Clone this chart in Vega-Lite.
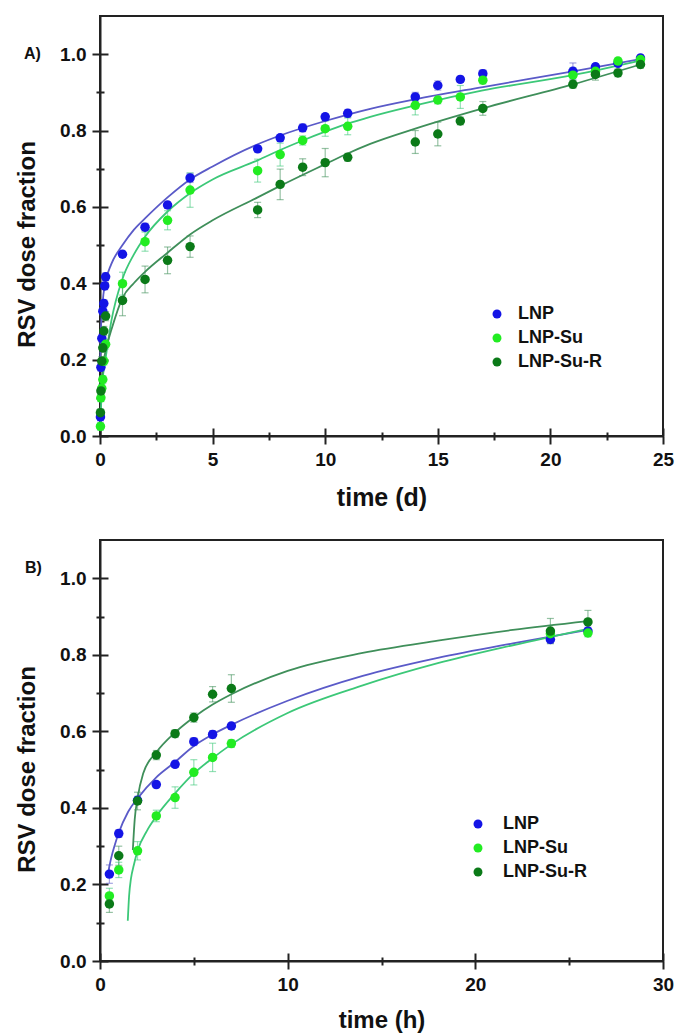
{
  "$schema": "https://vega.github.io/schema/vega-lite/v6.json",
  "background": "white",
  "padding": {"left": 14, "top": 15, "right": 8, "bottom": 2},
  "config": {
    "font": "Liberation Sans",
    "view": {"stroke": "#222", "strokeWidth": 2},
    "axis": {"grid": false, "domainColor": "#222", "domainWidth": 2, "tickColor": "#222", "tickWidth": 2, "labelFont": "Liberation Sans", "labelFontWeight": "bold", "labelFontSize": 19, "labelColor": "#111", "titleFont": "Liberation Sans", "titleFontWeight": "bold", "titleColor": "#111", "labelOverlap": false, "labelFlush": false}
  },
  "datasets": {
    "ptsA": [
      {"series":"LNP","t":0.02,"v":0.05,"lo":0.04,"hi":0.06},
      {"series":"LNP","t":0.04,"v":0.18,"lo":0.17,"hi":0.19},
      {"series":"LNP","t":0.08,"v":0.256,"lo":0.246,"hi":0.266},
      {"series":"LNP","t":0.125,"v":0.327,"lo":0.317,"hi":0.337},
      {"series":"LNP","t":0.17,"v":0.347,"lo":0.337,"hi":0.357},
      {"series":"LNP","t":0.21,"v":0.393,"lo":0.383,"hi":0.403},
      {"series":"LNP","t":0.25,"v":0.417,"lo":0.407,"hi":0.427},
      {"series":"LNP","t":1,"v":0.476,"lo":0.468,"hi":0.484},
      {"series":"LNP","t":2,"v":0.547,"lo":0.537,"hi":0.557},
      {"series":"LNP","t":3,"v":0.605,"lo":0.597,"hi":0.613},
      {"series":"LNP","t":4,"v":0.676,"lo":0.664,"hi":0.688},
      {"series":"LNP","t":7,"v":0.752,"lo":0.744,"hi":0.76},
      {"series":"LNP","t":8,"v":0.781,"lo":0.773,"hi":0.789},
      {"series":"LNP","t":9,"v":0.807,"lo":0.797,"hi":0.817},
      {"series":"LNP","t":10,"v":0.836,"lo":0.828,"hi":0.844},
      {"series":"LNP","t":11,"v":0.845,"lo":0.835,"hi":0.855},
      {"series":"LNP","t":14,"v":0.888,"lo":0.876,"hi":0.9},
      {"series":"LNP","t":15,"v":0.918,"lo":0.906,"hi":0.93},
      {"series":"LNP","t":16,"v":0.934,"lo":0.926,"hi":0.942},
      {"series":"LNP","t":17,"v":0.949,"lo":0.939,"hi":0.959},
      {"series":"LNP","t":21,"v":0.955,"lo":0.933,"hi":0.977},
      {"series":"LNP","t":22,"v":0.967,"lo":0.959,"hi":0.975},
      {"series":"LNP","t":23,"v":0.976,"lo":0.968,"hi":0.984},
      {"series":"LNP","t":24,"v":0.99,"lo":0.982,"hi":0.998},
      {"series":"LNP-Su","t":0.02,"v":0.025,"lo":0.015,"hi":0.035},
      {"series":"LNP-Su","t":0.04,"v":0.1,"lo":0.09,"hi":0.11},
      {"series":"LNP-Su","t":0.08,"v":0.125,"lo":0.115,"hi":0.135},
      {"series":"LNP-Su","t":0.125,"v":0.148,"lo":0.138,"hi":0.158},
      {"series":"LNP-Su","t":0.17,"v":0.196,"lo":0.186,"hi":0.206},
      {"series":"LNP-Su","t":0.25,"v":0.24,"lo":0.228,"hi":0.252},
      {"series":"LNP-Su","t":1,"v":0.399,"lo":0.369,"hi":0.429},
      {"series":"LNP-Su","t":2,"v":0.509,"lo":0.484,"hi":0.534},
      {"series":"LNP-Su","t":3,"v":0.565,"lo":0.54,"hi":0.59},
      {"series":"LNP-Su","t":4,"v":0.644,"lo":0.599,"hi":0.689},
      {"series":"LNP-Su","t":7,"v":0.695,"lo":0.665,"hi":0.725},
      {"series":"LNP-Su","t":8,"v":0.737,"lo":0.707,"hi":0.767},
      {"series":"LNP-Su","t":9,"v":0.774,"lo":0.762,"hi":0.786},
      {"series":"LNP-Su","t":10,"v":0.805,"lo":0.785,"hi":0.825},
      {"series":"LNP-Su","t":11,"v":0.811,"lo":0.789,"hi":0.833},
      {"series":"LNP-Su","t":14,"v":0.866,"lo":0.841,"hi":0.891},
      {"series":"LNP-Su","t":15,"v":0.88,"lo":0.87,"hi":0.89},
      {"series":"LNP-Su","t":16,"v":0.888,"lo":0.858,"hi":0.918},
      {"series":"LNP-Su","t":17,"v":0.932,"lo":0.922,"hi":0.942},
      {"series":"LNP-Su","t":21,"v":0.945,"lo":0.925,"hi":0.965},
      {"series":"LNP-Su","t":22,"v":0.955,"lo":0.945,"hi":0.965},
      {"series":"LNP-Su","t":23,"v":0.982,"lo":0.974,"hi":0.99},
      {"series":"LNP-Su","t":24,"v":0.986,"lo":0.978,"hi":0.994},
      {"series":"LNP-Su-R","t":0.02,"v":0.061,"lo":0.051,"hi":0.071},
      {"series":"LNP-Su-R","t":0.04,"v":0.118,"lo":0.108,"hi":0.128},
      {"series":"LNP-Su-R","t":0.08,"v":0.196,"lo":0.184,"hi":0.208},
      {"series":"LNP-Su-R","t":0.125,"v":0.231,"lo":0.219,"hi":0.243},
      {"series":"LNP-Su-R","t":0.17,"v":0.275,"lo":0.263,"hi":0.287},
      {"series":"LNP-Su-R","t":0.25,"v":0.314,"lo":0.302,"hi":0.326},
      {"series":"LNP-Su-R","t":1,"v":0.355,"lo":0.315,"hi":0.395},
      {"series":"LNP-Su-R","t":2,"v":0.41,"lo":0.375,"hi":0.445},
      {"series":"LNP-Su-R","t":3,"v":0.46,"lo":0.425,"hi":0.495},
      {"series":"LNP-Su-R","t":4,"v":0.496,"lo":0.468,"hi":0.524},
      {"series":"LNP-Su-R","t":7,"v":0.592,"lo":0.572,"hi":0.612},
      {"series":"LNP-Su-R","t":8,"v":0.659,"lo":0.619,"hi":0.699},
      {"series":"LNP-Su-R","t":9,"v":0.704,"lo":0.682,"hi":0.726},
      {"series":"LNP-Su-R","t":10,"v":0.716,"lo":0.679,"hi":0.753},
      {"series":"LNP-Su-R","t":11,"v":0.73,"lo":0.72,"hi":0.74},
      {"series":"LNP-Su-R","t":14,"v":0.77,"lo":0.74,"hi":0.8},
      {"series":"LNP-Su-R","t":15,"v":0.791,"lo":0.76,"hi":0.822},
      {"series":"LNP-Su-R","t":16,"v":0.825,"lo":0.815,"hi":0.835},
      {"series":"LNP-Su-R","t":17,"v":0.858,"lo":0.84,"hi":0.876},
      {"series":"LNP-Su-R","t":21,"v":0.921,"lo":0.911,"hi":0.931},
      {"series":"LNP-Su-R","t":22,"v":0.947,"lo":0.932,"hi":0.962},
      {"series":"LNP-Su-R","t":23,"v":0.951,"lo":0.941,"hi":0.961},
      {"series":"LNP-Su-R","t":24,"v":0.973,"lo":0.963,"hi":0.983}
    ],
    "fitA": [
      {"series":"LNP","t":0.01,"v":0.18},{"series":"LNP","t":0.03,"v":0.26},{"series":"LNP","t":0.08,"v":0.32},{"series":"LNP","t":0.15,"v":0.37},{"series":"LNP","t":0.25,"v":0.405},{"series":"LNP","t":0.5,"v":0.45},{"series":"LNP","t":1,"v":0.5},{"series":"LNP","t":1.5,"v":0.54},{"series":"LNP","t":2,"v":0.57},{"series":"LNP","t":3,"v":0.625},{"series":"LNP","t":4,"v":0.672},{"series":"LNP","t":5,"v":0.706},{"series":"LNP","t":7,"v":0.764},{"series":"LNP","t":8,"v":0.787},{"series":"LNP","t":10,"v":0.825},{"series":"LNP","t":12,"v":0.857},{"series":"LNP","t":14,"v":0.882},{"series":"LNP","t":17,"v":0.914},{"series":"LNP","t":21,"v":0.955},{"series":"LNP","t":24,"v":0.987},
      {"series":"LNP-Su","t":0.02,"v":0.03},{"series":"LNP-Su","t":0.06,"v":0.1},{"series":"LNP-Su","t":0.12,"v":0.15},{"series":"LNP-Su","t":0.24,"v":0.2},{"series":"LNP-Su","t":0.5,"v":0.3},{"series":"LNP-Su","t":1,"v":0.412},{"series":"LNP-Su","t":1.5,"v":0.475},{"series":"LNP-Su","t":2,"v":0.522},{"series":"LNP-Su","t":3,"v":0.588},{"series":"LNP-Su","t":4,"v":0.636},{"series":"LNP-Su","t":5,"v":0.672},{"series":"LNP-Su","t":7,"v":0.722},{"series":"LNP-Su","t":8,"v":0.749},{"series":"LNP-Su","t":9,"v":0.774},{"series":"LNP-Su","t":10,"v":0.797},{"series":"LNP-Su","t":11,"v":0.818},{"series":"LNP-Su","t":12,"v":0.836},{"series":"LNP-Su","t":14,"v":0.866},{"series":"LNP-Su","t":17,"v":0.905},{"series":"LNP-Su","t":21,"v":0.945},{"series":"LNP-Su","t":24,"v":0.983},
      {"series":"LNP-Su-R","t":0.05,"v":0.12},{"series":"LNP-Su-R","t":0.15,"v":0.19},{"series":"LNP-Su-R","t":0.3,"v":0.235},{"series":"LNP-Su-R","t":0.53,"v":0.283},{"series":"LNP-Su-R","t":1,"v":0.362},{"series":"LNP-Su-R","t":1.5,"v":0.4},{"series":"LNP-Su-R","t":2,"v":0.43},{"series":"LNP-Su-R","t":3,"v":0.48},{"series":"LNP-Su-R","t":4,"v":0.528},{"series":"LNP-Su-R","t":5,"v":0.565},{"series":"LNP-Su-R","t":7,"v":0.625},{"series":"LNP-Su-R","t":8,"v":0.655},{"series":"LNP-Su-R","t":10,"v":0.712},{"series":"LNP-Su-R","t":11,"v":0.74},{"series":"LNP-Su-R","t":12,"v":0.765},{"series":"LNP-Su-R","t":14,"v":0.805},{"series":"LNP-Su-R","t":17,"v":0.858},{"series":"LNP-Su-R","t":21,"v":0.921},{"series":"LNP-Su-R","t":24,"v":0.973}
    ],
    "ptsB": [
      {"series":"LNP","t":0.5,"v":0.227,"lo":0.203,"hi":0.251},
      {"series":"LNP","t":1,"v":0.333,"lo":0.323,"hi":0.343},
      {"series":"LNP","t":2,"v":0.42,"lo":0.41,"hi":0.43},
      {"series":"LNP","t":3,"v":0.461,"lo":0.453,"hi":0.469},
      {"series":"LNP","t":4,"v":0.514,"lo":0.506,"hi":0.522},
      {"series":"LNP","t":5,"v":0.573,"lo":0.563,"hi":0.583},
      {"series":"LNP","t":6,"v":0.592,"lo":0.582,"hi":0.602},
      {"series":"LNP","t":7,"v":0.614,"lo":0.606,"hi":0.622},
      {"series":"LNP","t":24,"v":0.84,"lo":0.83,"hi":0.85},
      {"series":"LNP","t":26,"v":0.862,"lo":0.852,"hi":0.872},
      {"series":"LNP-Su","t":0.5,"v":0.17,"lo":0.15,"hi":0.19},
      {"series":"LNP-Su","t":1,"v":0.238,"lo":0.218,"hi":0.258},
      {"series":"LNP-Su","t":2,"v":0.288,"lo":0.264,"hi":0.312},
      {"series":"LNP-Su","t":3,"v":0.379,"lo":0.364,"hi":0.394},
      {"series":"LNP-Su","t":4,"v":0.427,"lo":0.399,"hi":0.455},
      {"series":"LNP-Su","t":5,"v":0.493,"lo":0.46,"hi":0.526},
      {"series":"LNP-Su","t":6,"v":0.532,"lo":0.495,"hi":0.569},
      {"series":"LNP-Su","t":7,"v":0.568,"lo":0.558,"hi":0.578},
      {"series":"LNP-Su","t":24,"v":0.855,"lo":0.843,"hi":0.867},
      {"series":"LNP-Su","t":26,"v":0.857,"lo":0.847,"hi":0.867},
      {"series":"LNP-Su-R","t":0.5,"v":0.149,"lo":0.127,"hi":0.171},
      {"series":"LNP-Su-R","t":1,"v":0.275,"lo":0.25,"hi":0.3},
      {"series":"LNP-Su-R","t":2,"v":0.418,"lo":0.395,"hi":0.441},
      {"series":"LNP-Su-R","t":3,"v":0.538,"lo":0.526,"hi":0.55},
      {"series":"LNP-Su-R","t":4,"v":0.594,"lo":0.584,"hi":0.604},
      {"series":"LNP-Su-R","t":5,"v":0.636,"lo":0.624,"hi":0.648},
      {"series":"LNP-Su-R","t":6,"v":0.697,"lo":0.677,"hi":0.717},
      {"series":"LNP-Su-R","t":7,"v":0.712,"lo":0.676,"hi":0.748},
      {"series":"LNP-Su-R","t":24,"v":0.862,"lo":0.829,"hi":0.895},
      {"series":"LNP-Su-R","t":26,"v":0.886,"lo":0.856,"hi":0.916}
    ],
    "fitB": [
      {"series":"LNP","t":0.4,"v":0.222},{"series":"LNP","t":0.6,"v":0.27},{"series":"LNP","t":0.8,"v":0.305},{"series":"LNP","t":1,"v":0.335},{"series":"LNP","t":1.5,"v":0.39},{"series":"LNP","t":2,"v":0.425},{"series":"LNP","t":3,"v":0.48},{"series":"LNP","t":4,"v":0.52},{"series":"LNP","t":5,"v":0.562},{"series":"LNP","t":6,"v":0.592},{"series":"LNP","t":7,"v":0.617},{"series":"LNP","t":10,"v":0.68},{"series":"LNP","t":14,"v":0.745},{"series":"LNP","t":18,"v":0.792},{"series":"LNP","t":22,"v":0.83},{"series":"LNP","t":26,"v":0.865},
      {"series":"LNP-Su","t":1.48,"v":0.105},{"series":"LNP-Su","t":1.55,"v":0.17},{"series":"LNP-Su","t":1.65,"v":0.215},{"series":"LNP-Su","t":1.8,"v":0.25},{"series":"LNP-Su","t":2,"v":0.288},{"series":"LNP-Su","t":2.5,"v":0.34},{"series":"LNP-Su","t":3,"v":0.378},{"series":"LNP-Su","t":4,"v":0.438},{"series":"LNP-Su","t":5,"v":0.49},{"series":"LNP-Su","t":6,"v":0.53},{"series":"LNP-Su","t":7,"v":0.566},{"series":"LNP-Su","t":10,"v":0.648},{"series":"LNP-Su","t":14,"v":0.72},{"series":"LNP-Su","t":18,"v":0.778},{"series":"LNP-Su","t":22,"v":0.825},{"series":"LNP-Su","t":26,"v":0.868},
      {"series":"LNP-Su-R","t":1.75,"v":0.29},{"series":"LNP-Su-R","t":1.85,"v":0.37},{"series":"LNP-Su-R","t":2,"v":0.425},{"series":"LNP-Su-R","t":2.3,"v":0.49},{"series":"LNP-Su-R","t":3,"v":0.545},{"series":"LNP-Su-R","t":4,"v":0.597},{"series":"LNP-Su-R","t":5,"v":0.637},{"series":"LNP-Su-R","t":6,"v":0.67},{"series":"LNP-Su-R","t":7,"v":0.697},{"series":"LNP-Su-R","t":10,"v":0.758},{"series":"LNP-Su-R","t":14,"v":0.805},{"series":"LNP-Su-R","t":18,"v":0.837},{"series":"LNP-Su-R","t":22,"v":0.865},{"series":"LNP-Su-R","t":26,"v":0.888}
    ]
  },
  "bounds": "flush",
  "spacing": 104,
  "resolve": {"scale": {"x": "independent", "y": "independent", "color": "independent"}, "legend": {"color": "independent"}},
  "vconcat": [
    {
      "width": 563,
      "height": 420,
      "resolve": {"axis": {"x": "independent", "y": "independent"}},
      "layer": [
        {
          "data": {"name": "ptsA"},
          "mark": {"type": "rule", "strokeWidth": 1.2, "opacity": 0.55},
          "encoding": {
            "x": {"field": "t", "type": "quantitative", "scale": {"domain": [0, 25], "nice": false, "zero": false},
              "axis": {"orient": "bottom", "values": [0, 2.5, 5, 7.5, 10, 12.5, 15, 17.5, 20, 22.5, 25], "format": "d", "labelExpr": "datum.value % 5 === 0 ? datum.label : ''", "tickSize": {"condition": {"test": "datum.value % 5 === 0", "value": 8}, "value": 4}, "labelPadding": 6, "title": "time (d)", "titleFontSize": 25, "titlePadding": 16}},
            "y": {"field": "lo", "type": "quantitative", "scale": {"domain": [0, 1.1], "nice": false, "zero": false},
              "axis": {"orient": "left", "values": [0, 0.1, 0.2, 0.3, 0.4, 0.5, 0.6, 0.7, 0.8, 0.9, 1.0], "format": ".1f", "labelExpr": "round(datum.value * 10) % 2 === 0 ? datum.label : ''", "tickSize": {"condition": {"test": "round(datum.value * 10) % 2 === 0", "value": 8}, "value": 4}, "labelPadding": 6, "title": "RSV dose fraction", "titleFontSize": 24, "titlePadding": 20, "titleY": 228}},
            "y2": {"field": "hi"},
            "stroke": {"field": "series", "type": "nominal", "scale": {"domain": ["LNP", "LNP-Su", "LNP-Su-R"], "range": ["#5a5ac8", "#3cc878", "#3f8f5a"]}, "legend": null}
          }
        },
        {
          "data": {"name": "ptsA"},
          "mark": {"type": "tick", "orient": "horizontal", "size": 7, "thickness": 1.2, "opacity": 0.55},
          "encoding": {
            "x": {"field": "t", "type": "quantitative", "scale": {"domain": [0, 25], "nice": false, "zero": false}, "axis": null},
            "y": {"field": "lo", "type": "quantitative", "scale": {"domain": [0, 1.1], "nice": false, "zero": false}, "axis": null},
            "fill": {"field": "series", "type": "nominal", "scale": {"domain": ["LNP", "LNP-Su", "LNP-Su-R"], "range": ["#5a5ac8", "#3cc878", "#3f8f5a"]}, "legend": null}
          }
        },
        {
          "data": {"name": "ptsA"},
          "mark": {"type": "tick", "orient": "horizontal", "size": 7, "thickness": 1.2, "opacity": 0.55},
          "encoding": {
            "x": {"field": "t", "type": "quantitative", "scale": {"domain": [0, 25], "nice": false, "zero": false}, "axis": null},
            "y": {"field": "hi", "type": "quantitative", "scale": {"domain": [0, 1.1], "nice": false, "zero": false}, "axis": null},
            "fill": {"field": "series", "type": "nominal", "scale": {"domain": ["LNP", "LNP-Su", "LNP-Su-R"], "range": ["#5a5ac8", "#3cc878", "#3f8f5a"]}, "legend": null}
          }
        },
        {
          "data": {"name": "fitA"},
          "mark": {"type": "line", "strokeWidth": 1.8, "interpolate": "monotone"},
          "encoding": {
            "x": {"field": "t", "type": "quantitative", "scale": {"domain": [0, 25], "nice": false, "zero": false},
              "axis": {"orient": "bottom", "values": [0, 2.5, 5, 7.5, 10, 12.5, 15, 17.5, 20, 22.5, 25], "labels": false, "domain": false, "title": null, "tickSize": {"condition": {"test": "datum.value % 5 === 0", "value": -8}, "value": -4}}},
            "y": {"field": "v", "type": "quantitative", "scale": {"domain": [0, 1.1], "nice": false, "zero": false},
              "axis": {"orient": "left", "values": [0, 0.1, 0.2, 0.3, 0.4, 0.5, 0.6, 0.7, 0.8, 0.9, 1.0], "labels": false, "domain": false, "title": null, "tickSize": {"condition": {"test": "round(datum.value * 10) % 2 === 0", "value": -8}, "value": -4}}},
            "stroke": {"field": "series", "type": "nominal", "scale": {"domain": ["LNP", "LNP-Su", "LNP-Su-R"], "range": ["#2e2eb4", "#16dc64", "#137a38"]}, "legend": null}
          }
        },
        {
          "data": {"name": "ptsA"},
          "mark": {"type": "circle", "size": 90, "opacity": 1},
          "encoding": {
            "x": {"field": "t", "type": "quantitative", "scale": {"domain": [0, 25], "nice": false, "zero": false}, "axis": null},
            "y": {"field": "v", "type": "quantitative", "scale": {"domain": [0, 1.1], "nice": false, "zero": false}, "axis": null},
            "color": {"field": "series", "type": "nominal", "scale": {"domain": ["LNP", "LNP-Su", "LNP-Su-R"], "range": ["#1414e6", "#22ec22", "#0b7a18"]},
              "legend": {"orient": "none", "legendX": 388, "legendY": 289, "title": null, "symbolType": "circle", "symbolSize": 80, "symbolStrokeWidth": 0, "labelFontSize": 18, "labelFontWeight": "bold", "labelFont": "Liberation Sans", "labelColor": "#111", "rowPadding": 6, "labelOffset": 12, "padding": 0}}
          }
        },
        {
          "data": {"values": [{"label": "A)"}]},
          "mark": {"type": "text", "fontSize": 16, "fontWeight": "bold", "align": "center", "baseline": "middle", "color": "#111"},
          "encoding": {
            "x": {"datum": -3.0, "type": "quantitative", "scale": {"domain": [0, 25], "nice": false, "zero": false}, "axis": null},
            "y": {"datum": 1.0, "type": "quantitative", "scale": {"domain": [0, 1.1], "nice": false, "zero": false}, "axis": null},
            "text": {"field": "label"}
          }
        }
      ]
    },
    {
      "width": 563,
      "height": 421,
      "resolve": {"axis": {"x": "independent", "y": "independent"}},
      "layer": [
        {
          "data": {"name": "ptsB"},
          "mark": {"type": "rule", "strokeWidth": 1.2, "opacity": 0.55},
          "encoding": {
            "x": {"field": "t", "type": "quantitative", "scale": {"domain": [0, 30], "nice": false, "zero": false},
              "axis": {"orient": "bottom", "values": [0, 5, 10, 15, 20, 25, 30], "format": "d", "labelExpr": "datum.value % 10 === 0 ? datum.label : ''", "tickSize": {"condition": {"test": "datum.value % 10 === 0", "value": 8}, "value": 4}, "labelPadding": 6, "title": "time (h)", "titleFontSize": 24, "titlePadding": 14}},
            "y": {"field": "lo", "type": "quantitative", "scale": {"domain": [0, 1.1], "nice": false, "zero": false},
              "axis": {"orient": "left", "values": [0, 0.1, 0.2, 0.3, 0.4, 0.5, 0.6, 0.7, 0.8, 0.9, 1.0], "format": ".1f", "labelExpr": "round(datum.value * 10) % 2 === 0 ? datum.label : ''", "tickSize": {"condition": {"test": "round(datum.value * 10) % 2 === 0", "value": 8}, "value": 4}, "labelPadding": 6, "title": "RSV dose fraction", "titleFontSize": 24, "titlePadding": 20, "titleY": 229}},
            "y2": {"field": "hi"},
            "stroke": {"field": "series", "type": "nominal", "scale": {"domain": ["LNP", "LNP-Su", "LNP-Su-R"], "range": ["#5a5ac8", "#3cc878", "#3f8f5a"]}, "legend": null}
          }
        },
        {
          "data": {"name": "ptsB"},
          "mark": {"type": "tick", "orient": "horizontal", "size": 7, "thickness": 1.2, "opacity": 0.55},
          "encoding": {
            "x": {"field": "t", "type": "quantitative", "scale": {"domain": [0, 30], "nice": false, "zero": false}, "axis": null},
            "y": {"field": "lo", "type": "quantitative", "scale": {"domain": [0, 1.1], "nice": false, "zero": false}, "axis": null},
            "fill": {"field": "series", "type": "nominal", "scale": {"domain": ["LNP", "LNP-Su", "LNP-Su-R"], "range": ["#5a5ac8", "#3cc878", "#3f8f5a"]}, "legend": null}
          }
        },
        {
          "data": {"name": "ptsB"},
          "mark": {"type": "tick", "orient": "horizontal", "size": 7, "thickness": 1.2, "opacity": 0.55},
          "encoding": {
            "x": {"field": "t", "type": "quantitative", "scale": {"domain": [0, 30], "nice": false, "zero": false}, "axis": null},
            "y": {"field": "hi", "type": "quantitative", "scale": {"domain": [0, 1.1], "nice": false, "zero": false}, "axis": null},
            "fill": {"field": "series", "type": "nominal", "scale": {"domain": ["LNP", "LNP-Su", "LNP-Su-R"], "range": ["#5a5ac8", "#3cc878", "#3f8f5a"]}, "legend": null}
          }
        },
        {
          "data": {"name": "fitB"},
          "mark": {"type": "line", "strokeWidth": 1.8, "interpolate": "monotone"},
          "encoding": {
            "x": {"field": "t", "type": "quantitative", "scale": {"domain": [0, 30], "nice": false, "zero": false},
              "axis": {"orient": "bottom", "values": [0, 5, 10, 15, 20, 25, 30], "labels": false, "domain": false, "title": null, "tickSize": {"condition": {"test": "datum.value % 10 === 0", "value": -8}, "value": -4}}},
            "y": {"field": "v", "type": "quantitative", "scale": {"domain": [0, 1.1], "nice": false, "zero": false},
              "axis": {"orient": "left", "values": [0, 0.1, 0.2, 0.3, 0.4, 0.5, 0.6, 0.7, 0.8, 0.9, 1.0], "labels": false, "domain": false, "title": null, "tickSize": {"condition": {"test": "round(datum.value * 10) % 2 === 0", "value": -8}, "value": -4}}},
            "stroke": {"field": "series", "type": "nominal", "scale": {"domain": ["LNP", "LNP-Su", "LNP-Su-R"], "range": ["#2e2eb4", "#16dc64", "#137a38"]}, "legend": null}
          }
        },
        {
          "data": {"name": "ptsB"},
          "mark": {"type": "circle", "size": 90, "opacity": 1},
          "encoding": {
            "x": {"field": "t", "type": "quantitative", "scale": {"domain": [0, 30], "nice": false, "zero": false}, "axis": null},
            "y": {"field": "v", "type": "quantitative", "scale": {"domain": [0, 1.1], "nice": false, "zero": false}, "axis": null},
            "color": {"field": "series", "type": "nominal", "scale": {"domain": ["LNP", "LNP-Su", "LNP-Su-R"], "range": ["#1414e6", "#22ec22", "#0b7a18"]},
              "legend": {"orient": "none", "legendX": 369, "legendY": 275, "title": null, "symbolType": "circle", "symbolSize": 80, "symbolStrokeWidth": 0, "labelFontSize": 18, "labelFontWeight": "bold", "labelFont": "Liberation Sans", "labelColor": "#111", "rowPadding": 6, "labelOffset": 16, "padding": 0}}
          }
        },
        {
          "data": {"values": [{"label": "B)"}]},
          "mark": {"type": "text", "fontSize": 16, "fontWeight": "bold", "align": "center", "baseline": "middle", "color": "#111"},
          "encoding": {
            "x": {"datum": -3.55, "type": "quantitative", "scale": {"domain": [0, 30], "nice": false, "zero": false}, "axis": null},
            "y": {"datum": 1.026, "type": "quantitative", "scale": {"domain": [0, 1.1], "nice": false, "zero": false}, "axis": null},
            "text": {"field": "label"}
          }
        }
      ]
    }
  ]
}
